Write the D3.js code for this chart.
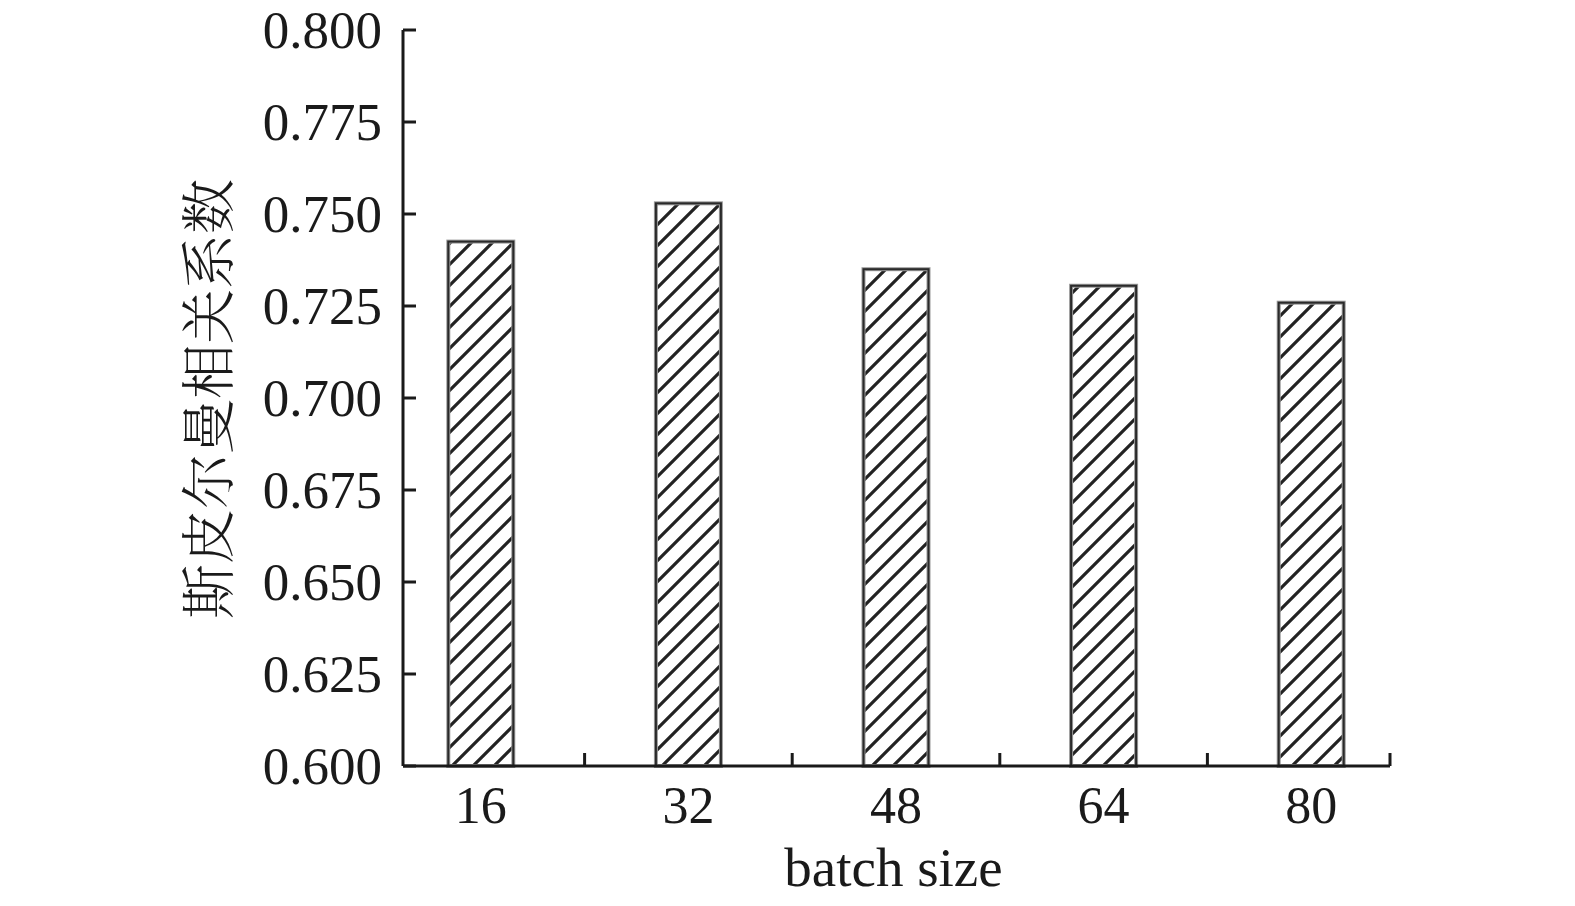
<!DOCTYPE html>
<html>
<head>
<meta charset="utf-8">
<script src="https://cdn.jsdelivr.net/npm/d3@7"></script>
<style>
  html, body { margin: 0; padding: 0; background: #fff; }
  svg { display: block; }
</style>
</head>
<body>
<svg id="chart"></svg>
<script>
// 数据
const categories = ['16', '32', '48', '64', '80'];
const values = [0.7425, 0.7529, 0.735, 0.7305, 0.7259];
const yTicks = [0.600, 0.625, 0.650, 0.675, 0.700, 0.725, 0.750, 0.775, 0.800];

const width = 1575, height = 906;
const svg = d3.select('#chart').attr('width', width).attr('height', height);

const axisLeft = 403, axisRight = 1390;
const yTop = 30, yBottom = 766;

const x = d3.scaleBand().domain(categories).range([377, 1415]).padding(0);
const y = d3.scaleLinear().domain([0.6, 0.8]).range([yBottom, yTop]);
const barW = 65;

const serif = '"Liberation Serif", "Times New Roman", serif';

// 斜线填充
const defs = svg.append('defs');
const pat = defs.append('pattern')
  .attr('id', 'hatch')
  .attr('patternUnits', 'userSpaceOnUse')
  .attr('width', 21).attr('height', 21);
pat.append('rect').attr('width', 21).attr('height', 21).attr('fill', '#fff');
pat.append('path')
  .attr('d', 'M-5,5 L5,-5 M0,21 L21,0 M16,26 L26,16')
  .attr('stroke', '#222').attr('stroke-width', 3.2);

// 柱子
svg.selectAll('rect.bar')
  .data(values)
  .enter()
  .append('rect')
  .attr('class', 'bar')
  .attr('x', (d, i) => x(categories[i]) + x.bandwidth() / 2 - barW / 2)
  .attr('y', d => y(d))
  .attr('width', barW)
  .attr('height', d => y(0.6) - y(d))
  .attr('fill', 'url(#hatch)')
  .attr('stroke', '#999')
  .attr('stroke-width', 4);

svg.selectAll('rect.bar-inner')
  .data(values)
  .enter()
  .append('rect')
  .attr('class', 'bar-inner')
  .attr('x', (d, i) => x(categories[i]) + x.bandwidth() / 2 - barW / 2)
  .attr('y', d => y(d))
  .attr('width', barW)
  .attr('height', d => y(0.6) - y(d))
  .attr('fill', 'none')
  .attr('stroke', '#2a2a2a')
  .attr('stroke-width', 2);

// Y 轴
const axisColor = '#1a1a1a';
svg.append('line')
  .attr('x1', axisLeft).attr('x2', axisLeft)
  .attr('y1', yTop).attr('y2', yBottom)
  .attr('stroke', axisColor).attr('stroke-width', 3);

svg.selectAll('line.ytick')
  .data(yTicks)
  .enter()
  .append('line')
  .attr('class', 'ytick')
  .attr('x1', axisLeft).attr('x2', axisLeft + 13)
  .attr('y1', d => y(d)).attr('y2', d => y(d))
  .attr('stroke', axisColor).attr('stroke-width', 3);

svg.selectAll('text.ylab')
  .data(yTicks)
  .enter()
  .append('text')
  .attr('class', 'ylab')
  .attr('x', 382)
  .attr('y', d => y(d) - 1)
  .attr('dy', '0.35em')
  .attr('text-anchor', 'end')
  .attr('font-family', serif)
  .attr('font-size', 53)
  .attr('fill', '#1a1a1a')
  .text(d => d3.format('.3f')(d));

// X 轴
svg.append('line')
  .attr('x1', axisLeft).attr('x2', axisRight)
  .attr('y1', yBottom).attr('y2', yBottom)
  .attr('stroke', axisColor).attr('stroke-width', 3);

const xTickPos = categories.slice(1).map(c => x(c)).concat([axisRight]);
svg.selectAll('line.xtick')
  .data(xTickPos)
  .enter()
  .append('line')
  .attr('class', 'xtick')
  .attr('x1', d => d).attr('x2', d => d)
  .attr('y1', yBottom).attr('y2', yBottom - 13)
  .attr('stroke', axisColor).attr('stroke-width', 3);

svg.selectAll('text.xlab')
  .data(categories)
  .enter()
  .append('text')
  .attr('class', 'xlab')
  .attr('x', d => x(d) + x.bandwidth() / 2)
  .attr('y', 823)
  .attr('text-anchor', 'middle')
  .attr('font-family', serif)
  .attr('font-size', 52)
  .attr('fill', '#1a1a1a')
  .text(d => d);

// 轴标题
svg.append('text')
  .attr('x', (axisLeft + axisRight) / 2 - 3)
  .attr('y', 886)
  .attr('text-anchor', 'middle')
  .attr('font-family', serif)
  .attr('font-size', 55)
  .attr('fill', '#1a1a1a')
  .text('batch size');

svg.append('text')
  .attr('transform', 'translate(228,399) rotate(-90)')
  .attr('text-anchor', 'middle')
  .attr('font-family', '"Noto Serif CJK SC", "Noto Sans CJK SC", serif')
  .attr('font-size', 55)
  .attr('font-weight', 300)
  .attr('fill', '#1a1a1a')
  .text('斯皮尔曼相关系数');
</script>
</body>
</html>
